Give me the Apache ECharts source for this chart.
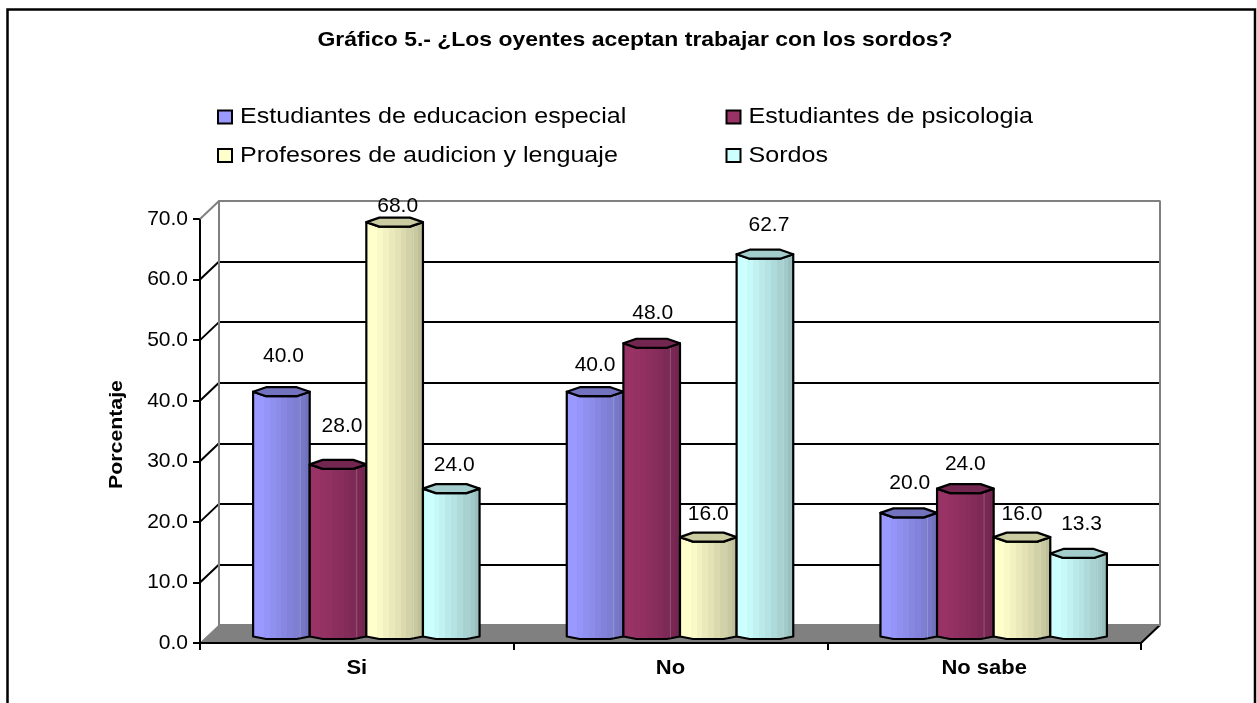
<!DOCTYPE html>
<html><head><meta charset="utf-8">
<style>html,body{margin:0;padding:0;background:#fff}#c{width:1257px;height:703px}</style>
<script src="https://cdn.jsdelivr.net/npm/echarts@6/dist/echarts.min.js"></script>
</head><body><div id="c"></div>
<script>
const categories = ['Si', 'No', 'No sabe'];
const seriesNames = ['Estudiantes de educacion especial', 'Estudiantes de psicologia', 'Profesores de audicion y lenguaje', 'Sordos'];
const educacionEspecial = [40.0, 40.0, 20.0];
const psicologia = [28.0, 48.0, 24.0];
const audicionLenguaje = [68.0, 16.0, 16.0];
const sordos = [24.0, 62.7, 13.3];
const allValues = [educacionEspecial, psicologia, audicionLenguaje, sordos];

const FONT = '"Liberation Sans", Arial, sans-serif';
const baseColors = ['#9999FF', '#993366', '#FFFFCC', '#CCFFFF'];
const darkColors = ['#7272BF', '#732650', '#BFBF99', '#99BFBF'];
const topColors = ['#7272BF', '#732650', '#CCCCA3', '#A3CCCC'];
// label nudges relative to each bar top (style only)
const labelNudge = [
  [[2,-36],[4,-38],[3,-16],[3,-23]],
  [[0,-27],[1,-30],[0,-23],[4,-29]],
  [[1,-30],[0,-24],[0,-23],[3,-29]]
];
const depthX = 19, depthY = 18;

// The reference's text is horizontally stretched; widen it per font when it is painted.
const stretch = [[/^bold 21px/, 1.093], [/^bold 20px/, 1.1], [/^bold 19px/, 1.12], [/^22px/, 1.14]];
const origFillText = CanvasRenderingContext2D.prototype.fillText;
CanvasRenderingContext2D.prototype.fillText = function (t, x, y, m) {
  const hit = stretch.find(r => r[0].test(this.font));
  if (!hit) return m === undefined ? origFillText.call(this, t, x, y) : origFillText.call(this, t, x, y, m);
  this.save();
  this.translate(x, y);
  this.scale(hit[1], 1);
  origFillText.call(this, t, 0, 0);
  this.restore();
};

function mix(a, b, t) {
  const p = s => [1,3,5].map(i => parseInt(s.substr(i,2),16));
  const A = p(a), B = p(b);
  return 'rgb(' + A.map((v,i) => Math.round(v + (B[i]-v)*t)).join(',') + ')';
}
function bandedGradient(i) {
  const stops = [];
  const profile = [0, 0, 0.1, 0.22, 0.34, 0.46, 0.58, 0.7, 0.85, 1];
  const n = profile.length;
  profile.forEach((t, k) => {
    const c = mix(baseColors[i], darkColors[i], t);
    stops.push({offset: k/n, color: c}, {offset: (k+1)/n, color: c});
  });
  return new echarts.graphic.LinearGradient(0, 0, 1, 0, stops);
}

function barRenderer(si) {
  const fill = bandedGradient(si);
  return function (params, api) {
    const cat = api.value(0), val = api.value(1);
    const bw = api.size([1, 0])[0] * 0.1805;
    const top = api.coord([cat, val]);
    const base = api.coord([cat, 0]);
    const x0 = top[0] + depthX/2 + (si - 2) * bw;
    const x1 = x0 + bw;
    const yT = top[1] - depthY/2;
    const yB = base[1] - depthY/2;
    const a = bw * 0.23, b = bw * 0.23;
    const body = [[x0,yT],[x0,yB+2.5],[x0+a,yB+5],[x1-b,yB+5],[x1,yB+2.5],[x1,yT],[x1-b,yT+4.5],[x0+a,yT+4.5]];
    const cap = [[x0,yT],[x0+a,yT-4.5],[x1-b,yT-4.5],[x1,yT],[x1-b,yT+4.5],[x0+a,yT+4.5]];
    const nudge = labelNudge[cat][si];
    return {type: 'group', children: [
      {type: 'polygon', shape: {points: body}, style: {fill: fill, stroke: '#000', lineWidth: 2.2, lineJoin: 'round'}},
      {type: 'line', shape: {x1: x0+bw*0.83, y1: yT+4, x2: x0+bw*0.83, y2: yB+4}, style: {stroke: 'rgba(255,255,255,0.22)', lineWidth: 1}},
      {type: 'polygon', shape: {points: cap}, style: {fill: topColors[si], stroke: '#000', lineWidth: 2.2, lineJoin: 'round'}},
      {type: 'text', z2: 100, style: {x: (x0+x1)/2 + nudge[0], y: yT + nudge[1], text: val.toFixed(1), fill: '#000',
        font: '21px ' + FONT, align: 'center', verticalAlign: 'middle'}}
    ]};
  };
}

function frameRenderer(params, api) {
  const cs = params.coordSys;
  const L = cs.x, R = cs.x + cs.width, B = cs.y + cs.height;
  const kids = [
    {type: 'polygon', shape: {points: [[L,B],[R,B],[R+depthX,B-depthY],[L+depthX,B-depthY]]},
      style: {fill: '#808080', stroke: '#808080', lineWidth: 1}},
    {type: 'line', shape: {x1: R, y1: B, x2: R+depthX, y2: B-depthY}, style: {stroke: '#000', lineWidth: 2}}
  ];
  for (let v = 10; v <= 70; v += 10) {
    const y = api.coord([0, v])[1];
    kids.push({type: 'line', shape: {x1: L, y1: y, x2: L+depthX, y2: y-depthY},
      style: {stroke: v === 70 ? '#808080' : '#000', lineWidth: 2}});
  }
  return {type: 'group', children: kids};
}

const legendPos = [[217,106],[725.5,106],[217,144.5],[725.5,144.5]];
const chart = echarts.init(document.getElementById('c'), null, {renderer: 'canvas'});
chart.setOption({
  animation: false,
  backgroundColor: '#fff',
  title: {text: 'Gráfico 5.- ¿Los oyentes aceptan trabajar con los sordos?', left: 630, top: 25, textAlign: 'center',
    textStyle: {fontFamily: FONT, fontSize: 21, fontWeight: 'bold', color: '#000'}},
  legend: seriesNames.map((n, i) => ({
    left: legendPos[i][0], top: legendPos[i][1], data: [{name: n, icon: 'rect', itemStyle: {color: baseColors[i], borderColor: '#000', borderWidth: 2}}],
    itemWidth: 14, itemHeight: 13, selectedMode: false, padding: 0,
    textStyle: {fontFamily: FONT, fontSize: 22, color: '#000', padding: [0, 0, 0, 3]}
  })),
  grid: [
    {left: 200, width: 941, top: 219, height: 424},
    {left: 219, width: 941, top: 201, height: 424, show: false}
  ],
  xAxis: [
    {gridIndex: 0, type: 'category', data: categories, boundaryGap: true,
      axisLine: {show: true, onZero: false, lineStyle: {color: '#000', width: 2}},
      axisTick: {show: true, alignWithLabel: false, length: 7, lineStyle: {color: '#000', width: 2}},
      axisLabel: {fontFamily: FONT, fontSize: 20, fontWeight: 'bold', color: '#000', margin: 15}, z: 20},
    {gridIndex: 1, type: 'value', min: 0, max: 1, show: false, splitLine: {show: false}}
  ],
  yAxis: [
    {gridIndex: 0, type: 'value', min: 0, max: 70, interval: 10,
      name: 'Porcentaje', nameLocation: 'middle', nameGap: 74, nameRotate: 90,
      nameTextStyle: {fontFamily: FONT, fontSize: 19, fontWeight: 'bold', color: '#000', padding: [0, 7, 0, 0]},
      axisLine: {show: true, lineStyle: {color: '#000', width: 2}},
      axisTick: {show: true, length: 7, lineStyle: {color: '#000', width: 2}},
      axisLabel: {fontFamily: FONT, fontSize: 21, color: '#000', margin: 12, formatter: v => v.toFixed(1)},
      splitLine: {show: false}},
    {gridIndex: 1, type: 'value', min: 0, max: 70, interval: 10, position: 'left',
      axisLabel: {show: false}, axisTick: {show: false},
      axisLine: {show: true, lineStyle: {color: '#808080', width: 2}},
      splitLine: {show: true, lineStyle: {color: '#000', width: 2}}, z: 0}
  ],
  graphic: [
    {type: 'rect', silent: true, z: -1, shape: {x: 7.5, y: 9.5, width: 1247.5, height: 700}, style: {fill: 'none', stroke: '#000', lineWidth: 2.5}}
  ],
  series: [
    {type: 'custom', name: 'frame', xAxisIndex: 0, yAxisIndex: 0, renderItem: frameRenderer, data: [[0, 0]], z: 1, silent: true, clip: false},
    {type: 'line', name: 'back', xAxisIndex: 1, yAxisIndex: 1, data: [[1, 0], [1, 70], [0, 70], [0, 0], [1, 0]], symbol: 'none',
      lineStyle: {color: '#808080', width: 2}, z: 2, silent: true},
    ...seriesNames.map((n, i) => ({
      type: 'custom', name: n, xAxisIndex: 0, yAxisIndex: 0,
      renderItem: barRenderer(i), encode: {x: 0, y: 1}, z: 5 + i, clip: false,
      itemStyle: {color: baseColors[i]},
      data: allValues[i].map((v, c) => [c, v])
    }))
  ]
});
</script></body></html>
